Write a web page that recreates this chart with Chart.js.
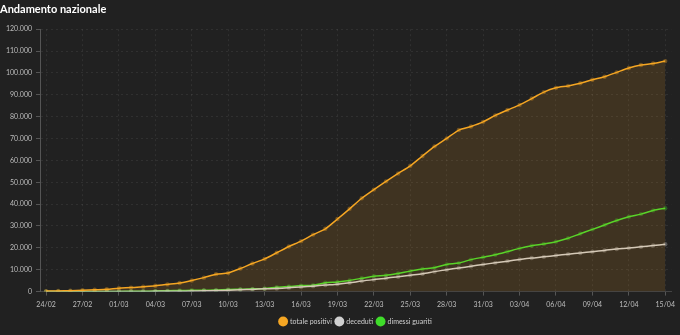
<!DOCTYPE html>
<html>
<head>
<meta charset="utf-8">
<script src="https://cdn.jsdelivr.net/npm/chart.js@4/dist/chart.umd.min.js"></script>
<style>
  html, body { margin: 0; padding: 0; background: #212121; }
  #wrap { width: 680px; height: 335px; }
</style>
</head>
<body>
<div id="wrap"><canvas id="chart"></canvas></div>
<script>
const giorni = [
  '24/02', '25/02', '26/02', '27/02', '28/02', '29/02',
  '01/03', '02/03', '03/03', '04/03', '05/03', '06/03', '07/03', '08/03', '09/03', '10/03',
  '11/03', '12/03', '13/03', '14/03', '15/03', '16/03', '17/03', '18/03', '19/03', '20/03',
  '21/03', '22/03', '23/03', '24/03', '25/03', '26/03', '27/03', '28/03', '29/03', '30/03', '31/03',
  '01/04', '02/04', '03/04', '04/04', '05/04', '06/04', '07/04', '08/04', '09/04', '10/04',
  '11/04', '12/04', '13/04', '14/04', '15/04'
]

const totalePositivi = [
  221, 311, 385, 588, 821, 1049,
  1577, 1835, 2263, 2706, 3296, 3916, 5061, 6387, 7985, 8514,
  10590, 12839, 14955, 17750, 20603, 23073, 26062, 28710, 33190, 37860,
  42681, 46638, 50418, 54030, 57521, 62013, 66414, 70065, 73880, 75528, 77635,
  80572, 83049, 85388, 88274, 91246, 93187, 94067, 95262, 96877, 98273,
  100269, 102253, 103616, 104291, 105418
]

const deceduti = [
  7, 10, 12, 17, 21, 29,
  34, 52, 79, 107, 148, 197, 233, 366, 463, 631,
  827, 1016, 1266, 1441, 1809, 2158, 2503, 2978, 3405, 4032,
  4825, 5476, 6077, 6820, 7503, 8165, 9134, 10023, 10779, 11591, 12428,
  13155, 13915, 14681, 15362, 15887, 16523, 17127, 17669, 18279, 18849,
  19468, 19899, 20465, 21067, 21645
]

const dimessiGuariti = [
  1, 1, 3, 45, 46, 50,
  83, 149, 160, 276, 414, 523, 589, 622, 724, 1004,
  1045, 1258, 1439, 1966, 2335, 2749, 2941, 4025, 4440, 5129,
  6072, 7024, 7432, 8326, 9362, 10361, 10950, 12384, 13030, 14620, 15729,
  16847, 18278, 19758, 20996, 21815, 22837, 24392, 26491, 28470, 30455,
  32534, 34211, 35435, 37130, 38092
]

const yMax = 120000
const yStep = 10000

function migliaia(v) {
  return String(v).replace(/\B(?=(\d{3})+(?!\d))/g, '.')
}

function serie(label, data, colore, punti, fill) {
  return {
    label: label,
    data: data,
    borderColor: colore,
    backgroundColor: fill || colore,
    pointBackgroundColor: punti,
    pointBorderWidth: 0,
    pointRadius: 2.2,
    borderWidth: 1.5,
    tension: 0.25,
    fill: fill ? 'origin' : false,
  }
}

Chart.defaults.font.family = 'Lato, "Open Sans", sans-serif'
Chart.defaults.color = '#bdbdbd'

new Chart(document.getElementById('chart'), {
  type: 'line',
  data: {
    labels: giorni,
    datasets: [
      serie('totale positivi', totalePositivi, '#f5a623', 'rgba(245,166,35,0.35)', 'rgba(245,166,35,0.14)'),
      serie('deceduti', deceduti, '#d0d0d0', 'rgba(208,208,208,0.3)'),
      serie('dimessi guariti', dimessiGuariti, '#3fdc2a', 'rgba(63,220,42,0.3)'),
    ],
  },
  options: {
    responsive: true,
    maintainAspectRatio: false,
    animation: false,
    layout: { padding: { left: 0, right: 5, top: 0, bottom: 0 } },
    plugins: {
      title: {
        display: true,
        text: 'Andamento nazionale',
        align: 'start',
        color: '#ffffff',
        font: { size: 11, weight: 'bold' },
        padding: { top: 3, bottom: 13 },
      },
      legend: {
        position: 'bottom',
        fullSize: false,
        labels: {
          usePointStyle: true,
          pointStyle: 'circle',
          boxWidth: 8,
          boxHeight: 8,
          padding: 4,
          color: '#cfcfcf',
          font: { size: 7 },
          generateLabels: (chart) => {
            const items = Chart.defaults.plugins.legend.labels.generateLabels(chart)
            items.forEach((it) => {
              const c = chart.data.datasets[it.datasetIndex].borderColor
              it.fillStyle = c
              it.strokeStyle = c
              it.lineWidth = 0
            })
            return items
          },
        },
      },
      tooltip: { enabled: false },
    },
    scales: {
      x: {
        offset: true,
        grid: {
          color: 'rgba(255,255,255,0.07)',
          tickColor: '#555',
          tickLength: 4,
        },
        border: { color: '#444', dash: [2, 3] },
        ticks: {
          autoSkip: false,
          maxRotation: 0,
          font: { size: 7 },
          color: '#bdbdbd',
          padding: 5,
          callback: function (v, i) {
            return i % 3 === 0 ? giorni[i] : null
          },
        },
      },
      y: {
        min: 0,
        max: yMax,
        afterFit: (s) => { s.width = 40 },
        grid: {
          color: 'rgba(255,255,255,0.07)',
          tickColor: '#555',
          tickLength: 4,
        },
        border: { color: '#555', dash: [2, 3] },
        ticks: {
          stepSize: yStep,
          font: { size: 7 },
          color: '#bdbdbd',
          padding: 4,
          callback: (v) => migliaia(v),
        },
      },
    },
  },
})
</script>
</body>
</html>
